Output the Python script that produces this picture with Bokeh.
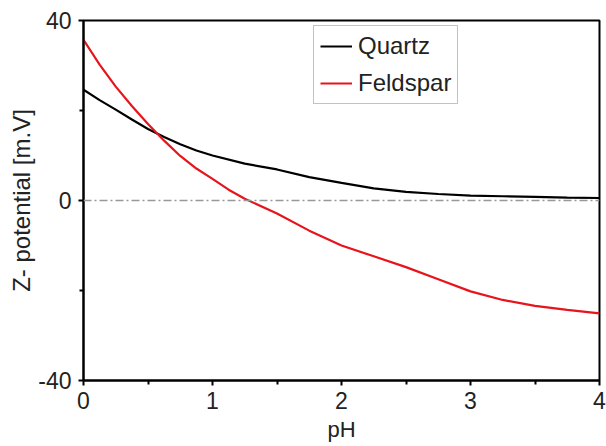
from bokeh.plotting import figure
from bokeh.models import FixedTicker, Legend, LegendItem, Span, Range1d
from bokeh.embed import file_html
from bokeh.resources import INLINE

pH_quartz = [0, 0.125, 0.25, 0.375, 0.5, 0.625, 0.75, 0.875, 1, 1.25, 1.5, 1.75, 2,
             2.25, 2.5, 2.75, 3, 3.25, 3.5, 3.75, 4]
quartz = [24.6, 22.3, 20.2, 18.0, 15.9, 14.1, 12.5, 11.1, 10.0, 8.2, 6.9, 5.2, 3.9,
          2.7, 1.9, 1.45, 1.1, 0.95, 0.8, 0.65, 0.55]
pH_feldspar = [0, 0.125, 0.25, 0.375, 0.5, 0.625, 0.75, 0.875, 1, 1.125, 1.25, 1.5, 1.75, 2,
               2.25, 2.5, 2.75, 3, 3.25, 3.5, 3.75, 4]
feldspar = [35.7, 30.2, 25.3, 21.0, 17.0, 13.3, 9.9, 7.1, 4.8, 2.4, 0.4, -2.9, -6.7, -10.0,
            -12.4, -14.8, -17.5, -20.2, -22.1, -23.4, -24.3, -25.1]
x_ticks = [0, 1, 2, 3, 4]
x_minor = [0.5, 1.5, 2.5, 3.5]
y_ticks = [-40, 0, 40]
y_minor = [-20, 20]
y_tick_labels = {-40: "-40", 0: "0", 40: "40"}

FONT = "Liberation Sans"

p = figure(width=606, height=446, output_backend="svg", toolbar_location=None,
           x_range=Range1d(0, 4), y_range=Range1d(-40, 40),
           min_border_left=83, min_border_right=7, min_border_top=20, min_border_bottom=66)
p.grid.visible = False
p.outline_line_color = "black"
p.outline_line_width = 2
p.background_fill_color = "white"
p.border_fill_color = "white"

for ax in (p.xaxis[0], p.yaxis[0]):
    ax.axis_line_width = 2
    ax.major_tick_line_width = 2
    ax.minor_tick_line_width = 2
    ax.major_tick_in = 0
    ax.major_tick_out = 5
    ax.minor_tick_in = 0
    ax.minor_tick_out = 4
    ax.major_label_text_font = FONT
    ax.major_label_text_font_size = "23px"
    ax.major_label_text_color = "#222222"
    ax.axis_label_text_font = FONT
    ax.axis_label_text_font_style = "normal"
    ax.axis_label_text_color = "#222222"

p.xaxis.axis_label_text_font_size = "22px"
p.yaxis.axis_label_text_font_size = "24px"
p.xaxis.ticker = FixedTicker(ticks=x_ticks, minor_ticks=x_minor)
p.yaxis.ticker = FixedTicker(ticks=y_ticks, minor_ticks=y_minor)
p.yaxis.major_label_overrides = y_tick_labels
p.xaxis.axis_label = "pH"
p.yaxis.axis_label = "Z- potential [m.V]"
p.xaxis.major_label_standoff = 6
p.yaxis.major_label_standoff = 7
p.xaxis.axis_label_standoff = 5
p.yaxis.axis_label_standoff = 0

zero = Span(location=0, dimension="width", line_color="#999999", line_width=1.3, line_dash="8 3 2 3")
p.add_layout(zero)

r1 = p.line(pH_quartz, quartz, line_color="black", line_width=2.2)
r2 = p.line(pH_feldspar, feldspar, line_color="#e8141c", line_width=2.2)

legend = Legend(items=[LegendItem(label="Quartz", renderers=[r1]),
                       LegendItem(label="Feldspar", renderers=[r2])],
                location=(230, 276))
legend.label_text_font = FONT
legend.label_text_font_size = "24px"
legend.label_text_color = "#222222"
legend.border_line_color = "#888888"
legend.border_line_width = 1.5
legend.glyph_width = 32
legend.glyph_height = 24
legend.label_height = 24
legend.spacing = 9
legend.padding = 6
legend.margin = 0
legend.label_standoff = 6
legend.background_fill_alpha = 1
p.add_layout(legend)

open("out.html", "w").write(file_html(p, INLINE))
